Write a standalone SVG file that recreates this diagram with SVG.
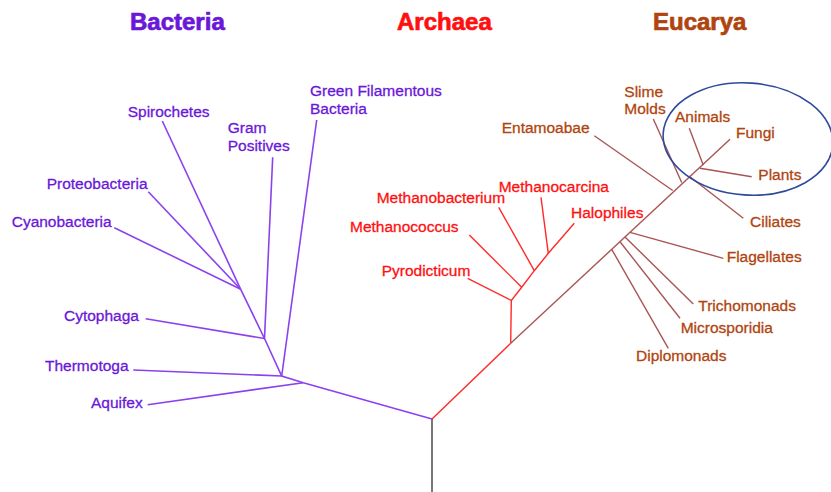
<svg xmlns="http://www.w3.org/2000/svg" width="831" height="492" viewBox="0 0 831 492">
<style>
text{font-family:"Liberation Sans",Arial,Helvetica,sans-serif;font-size:15.5px;stroke-width:0.3}
.title{font-size:24px;font-weight:bold;stroke-width:0.7}
.bac{fill:#6a17d9;stroke:#6a17d9}
.arc{fill:#ff1010;stroke:#ff1010}
.euc{fill:#b0440f;stroke:#b0440f}
.lb line,.lb polyline{stroke:#8b42ee;stroke-width:1.6;fill:none}
.la line,.la polyline{stroke:#ff2a2a;stroke-width:1.4;fill:none}
.le line{stroke:#a95555;stroke-width:1.4;fill:none}
</style>
<rect width="831" height="492" fill="#fff"/>
<g id="titles">
<text class="title bac" x="130" y="30">Bacteria</text>
<text class="title arc" x="397" y="30">Archaea</text>
<text class="title euc" x="653" y="30">Eucarya</text>
</g>
<g id="connectors">
<line x1="432" y1="419" x2="432" y2="492" stroke="#777" stroke-width="2"/>
<g class="lb">
<polyline points="432,419 303.3,382.7 281.7,376 264.5,338.5 240.7,289.3"/>
<line x1="303.3" y1="382.7" x2="147.7" y2="404.7"/>
<line x1="281.7" y1="376" x2="133.3" y2="370"/>
<line x1="281.7" y1="376" x2="316.7" y2="120"/>
<line x1="264.5" y1="338.5" x2="145.7" y2="318.7"/>
<line x1="264.5" y1="338.5" x2="272.7" y2="157.3"/>
<line x1="240.7" y1="289.3" x2="162.3" y2="121"/>
<line x1="240.7" y1="289.3" x2="148.3" y2="191.7"/>
<line x1="240.7" y1="289.3" x2="114.3" y2="227.7"/>
</g>
<g class="la">
<line x1="432" y1="419" x2="510.7" y2="343.3"/>
<polyline points="510.7,343.3 511.3,300.5 521.7,287.3 534.3,270.7 548.3,253.3 574.3,223.3"/>
<line x1="511.3" y1="300.5" x2="467.7" y2="278.3"/>
<line x1="521.7" y1="287.3" x2="469.3" y2="235"/>
<line x1="534.3" y1="270.7" x2="498.7" y2="207.3"/>
<line x1="548.3" y1="253.3" x2="541" y2="197.3"/>
</g>
<g class="le">
<line x1="510.7" y1="343.3" x2="730" y2="139.3"/>
<line x1="611.7" y1="249.3" x2="668.3" y2="348.3"/>
<line x1="620" y1="241.7" x2="680" y2="318.3"/>
<line x1="625" y1="237" x2="693.3" y2="304"/>
<line x1="630" y1="232.4" x2="723.3" y2="258.3"/>
<line x1="672.7" y1="190.5" x2="594.3" y2="135.7"/>
<line x1="681.7" y1="182.5" x2="653.3" y2="119"/>
<line x1="689" y1="176" x2="743.3" y2="218.3"/>
<line x1="700" y1="168.3" x2="751.7" y2="176.7"/>
<line x1="703.3" y1="165.3" x2="689.3" y2="128.3"/>
</g>
</g>
<g id="ellipse">
<ellipse cx="748" cy="139" rx="85" ry="56" transform="rotate(4 748 139)" fill="none" stroke="#2e4a9c" stroke-width="1.6"/>
</g>
<g id="bacteria">
<g id="n-spirochetes"><text class="bac" x="127.7" y="117">Spirochetes</text></g>
<g id="n-gram"><text class="bac" x="227.7" y="133.3">Gram</text><text class="bac" x="227.7" y="151">Positives</text></g>
<g id="n-green"><text class="bac" x="310" y="96">Green Filamentous</text><text class="bac" x="310" y="114.3">Bacteria</text></g>
<g id="n-proteo"><text class="bac" x="46.7" y="189.3">Proteobacteria</text></g>
<g id="n-cyano"><text class="bac" x="11.7" y="226.7">Cyanobacteria</text></g>
<g id="n-cytophaga"><text class="bac" x="64" y="321">Cytophaga</text></g>
<g id="n-thermotoga"><text class="bac" x="45" y="371">Thermotoga</text></g>
<g id="n-aquifex"><text class="bac" x="91" y="407.7">Aquifex</text></g>
</g>
<g id="archaea">
<g id="n-methanocarcina"><text class="arc" x="498.7" y="191.7">Methanocarcina</text></g>
<g id="n-methanobacterium"><text class="arc" x="376.7" y="203.3">Methanobacterium</text></g>
<g id="n-halophiles"><text class="arc" x="571" y="217.7">Halophiles</text></g>
<g id="n-methanococcus"><text class="arc" x="350" y="231.7">Methanococcus</text></g>
<g id="n-pyrodicticum"><text class="arc" x="381.7" y="276">Pyrodicticum</text></g>
</g>
<g id="eucarya">
<g id="n-slime"><text class="euc" x="624.3" y="96.7">Slime</text><text class="euc" x="624.3" y="114.3">Molds</text></g>
<g id="n-entamoabae"><text class="euc" x="501.7" y="133.3">Entamoabae</text></g>
<g id="n-animals"><text class="euc" x="675" y="121.7">Animals</text></g>
<g id="n-fungi"><text class="euc" x="736" y="138.3">Fungi</text></g>
<g id="n-plants"><text class="euc" x="758.3" y="180">Plants</text></g>
<g id="n-ciliates"><text class="euc" x="750" y="226.7">Ciliates</text></g>
<g id="n-flagellates"><text class="euc" x="726.7" y="262.3">Flagellates</text></g>
<g id="n-trichomonads"><text class="euc" x="698.3" y="311">Trichomonads</text></g>
<g id="n-microsporidia"><text class="euc" x="680.7" y="333.3">Microsporidia</text></g>
<g id="n-diplomonads"><text class="euc" x="636" y="361">Diplomonads</text></g>
</g>
</svg>
